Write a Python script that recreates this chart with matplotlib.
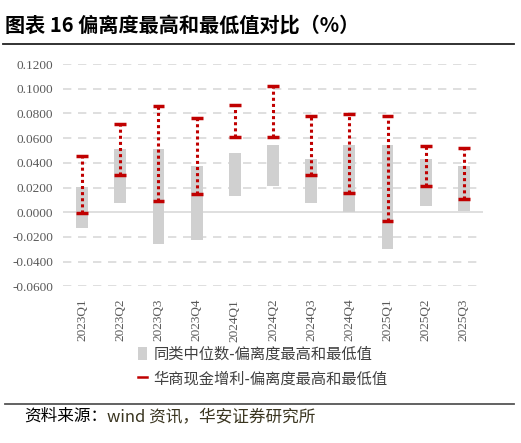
#!/usr/bin/env python

import matplotlib
matplotlib.use("Agg")
import matplotlib.pyplot as plt
from matplotlib.lines import Line2D
from matplotlib.patches import Patch

plt.rcParams['font.family'] = ['Noto Sans CJK SC', 'DejaVu Sans']

quarters = ['2023Q1', '2023Q2', '2023Q3', '2023Q4', '2024Q1', '2024Q2',
            '2024Q3', '2024Q4', '2025Q1', '2025Q2', '2025Q3']

# peer median: deviation high / low
peer_high = [0.0205, 0.0515, 0.0515, 0.0377, 0.0480, 0.0548,
             0.0434, 0.0542, 0.0542, 0.0431, 0.0377]
peer_low = [-0.0130, 0.0073, -0.0257, -0.0224, 0.0135, 0.0216,
            0.0075, 0.0000, -0.0297, 0.0054, 0.0013]

# fund: deviation high / low
fund_high = [0.0456, 0.0715, 0.0863, 0.0761, 0.0871, 0.1025,
             0.0777, 0.0796, 0.0777, 0.0537, 0.0520]
fund_low = [-0.0008, 0.0302, 0.0094, 0.0148, 0.0610, 0.0610,
            0.0302, 0.0156, -0.0068, 0.0210, 0.0110]

yticks = [-0.06, -0.04, -0.02, 0.0, 0.02, 0.04, 0.06, 0.08, 0.10, 0.12]

RED = '#C00000'
GREY = '#D0D0D0'
TICK = '#595959'

fig = plt.figure(figsize=(5.21, 4.43), dpi=100)
ax = fig.add_axes([0.121, 0.3537, 0.806, 0.5018])

x = list(range(len(quarters)))
w = 0.31

ax.bar(x, [h - l for h, l in zip(peer_high, peer_low)], bottom=peer_low,
       width=w, color=GREY, zorder=2)

ax.vlines(x, fund_low, fund_high, colors=RED, linestyles=(0, (1, 1)),
          linewidth=2.2, zorder=3)
ax.hlines(fund_high, [i - w / 2 for i in x], [i + w / 2 for i in x],
          colors=RED, linewidth=2.5, zorder=4)
ax.hlines(fund_low, [i - w / 2 for i in x], [i + w / 2 for i in x],
          colors=RED, linewidth=2.5, zorder=4)

ax.set_xlim(-0.5, len(quarters) - 0.5)
ax.set_ylim(-0.06, 0.12)
ax.set_yticks(yticks)
ax.set_yticklabels(['%.4f' % v for v in yticks], family='Liberation Serif',
                   fontsize=9.5, color=TICK)
ax.set_xticks(x)
ax.set_xticklabels(quarters, rotation=90, family='Liberation Serif',
                   fontsize=9.5, color=TICK)
ax.tick_params(length=0, pad=7)
ax.tick_params(axis='x', pad=9)

for v in yticks:
    if v != 0:
        ax.axhline(v, color='#D9D9D9', linewidth=1.2, linestyle=(0, (5, 4)), zorder=1)
ax.axhline(0, color='#D9D9D9', linewidth=1.2, zorder=1)
for s in ax.spines.values():
    s.set_visible(False)

handles = [Patch(facecolor=GREY, edgecolor='none'),
           Line2D([], [], color=RED, linewidth=1.8)]
labels = ['同类中位数-偏离度最高和最低值', '华商现金增利-偏离度最高和最低值']
fig.legend(handles, labels, loc='upper left', bbox_to_anchor=(0.238, 0.251),
           frameon=False, fontsize=11, handlelength=0.6, handleheight=0.9,
           handletextpad=0.45, labelspacing=0.5, labelcolor='#404040')

# title and source
fig.text(0.01, 0.943, '图表 16 偏离度最高和最低值对比（%）', fontsize=14.5,
         fontweight='bold', va='center', ha='left')
fig.add_artist(Line2D([0.006, 0.987], [0.901, 0.901], color='#222222', linewidth=1.3))
fig.add_artist(Line2D([0.01, 0.987], [0.088, 0.088], color='#555555', linewidth=1.3))
src = fig.text(0.046, 0.060, '资料来源：', fontsize=12, va='center', ha='left')
fig.canvas.draw()
bb = src.get_window_extent().transformed(fig.transFigure.inverted())
fig.text(bb.x1, 0.060, 'wind 资讯，华安证券研究所', fontsize=12, va='center',
         ha='left', color='#3A3520')

fig.savefig('out.png', dpi=100)
